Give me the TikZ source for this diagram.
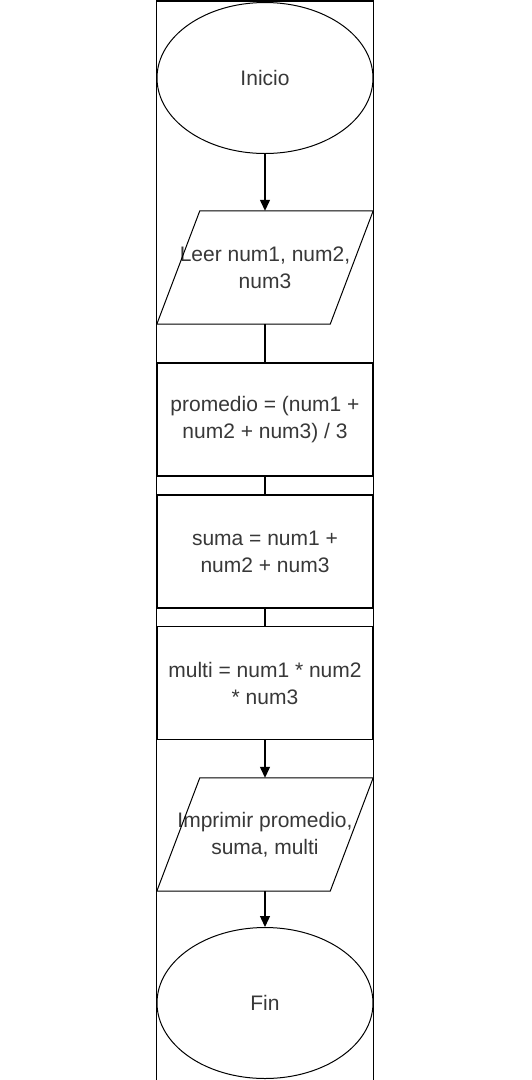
\documentclass[tikz,border=0pt]{standalone}
\usepackage{fontspec}
\setmainfont{Liberation Sans}
\usetikzlibrary{shapes.geometric,arrows.meta,calc}
\begin{document}
\begin{tikzpicture}[x=1pt,y=-1pt,
  txt/.style={font=\fontsize{21}{27}\selectfont, text=black!78, align=center},
  term/.style={ellipse, draw, line width=1pt, minimum width=216pt, minimum height=151pt, inner sep=0pt, txt},
  proc/.style={rectangle, draw, line width=1.3pt, minimum width=216pt, minimum height=113pt, inner sep=0pt, txt},
  iobox/.style={rectangle, minimum width=216pt, minimum height=113pt, inner sep=0pt, txt},
  para/.style={line width=1pt},
  conn/.style={line width=1.3pt},
  arr/.style={conn, -{Triangle[length=11pt,width=10pt]}},
  frame/.style={line width=1.3pt}]
\useasboundingbox (0,0) rectangle (531,1080);
\fill[white] (0,0) rectangle (531,1080);
% frame
\draw[frame] (156.5,1080) -- (156.5,1) -- (373.5,1) -- (373.5,1080);
\draw[line width=2pt] (156.5,1) -- (373.5,1);
% nodes
\node[term] (inicio) at (265,78) {Inicio};
\node[iobox] (leer) at (265,267.5) {Leer num1, num2,\\num3};
\draw[para] ($(leer.north west)+(43,0)$) -- (leer.north east) -- ($(leer.south east)-(43,0)$) -- (leer.south west) -- cycle;
\node[proc] (prom) at (265,419.5) {promedio = (num1 +\\num2 + num3) / 3};
\node[proc] (suma) at (265,551.5) {suma = num1 +\\num2 + num3};
\node[proc] (multi) at (265,683) {multi = num1 * num2\\* num3};
\node[iobox] (impr) at (265,834.5) {Imprimir promedio,\\suma, multi};
\draw[para] ($(impr.north west)+(43,0)$) -- (impr.north east) -- ($(impr.south east)-(43,0)$) -- (impr.south west) -- cycle;
\node[term] (fin) at (265,1003) {Fin};
% connectors
\draw[arr] (inicio.south) -- (leer.north);
\draw[conn] (leer.south) -- (prom.north);
\draw[conn] (prom.south) -- (suma.north);
\draw[conn] (suma.south) -- (multi.north);
\draw[arr] (multi.south) -- (impr.north);
\draw[arr] (impr.south) -- (fin.north);
\end{tikzpicture}
\end{document}
